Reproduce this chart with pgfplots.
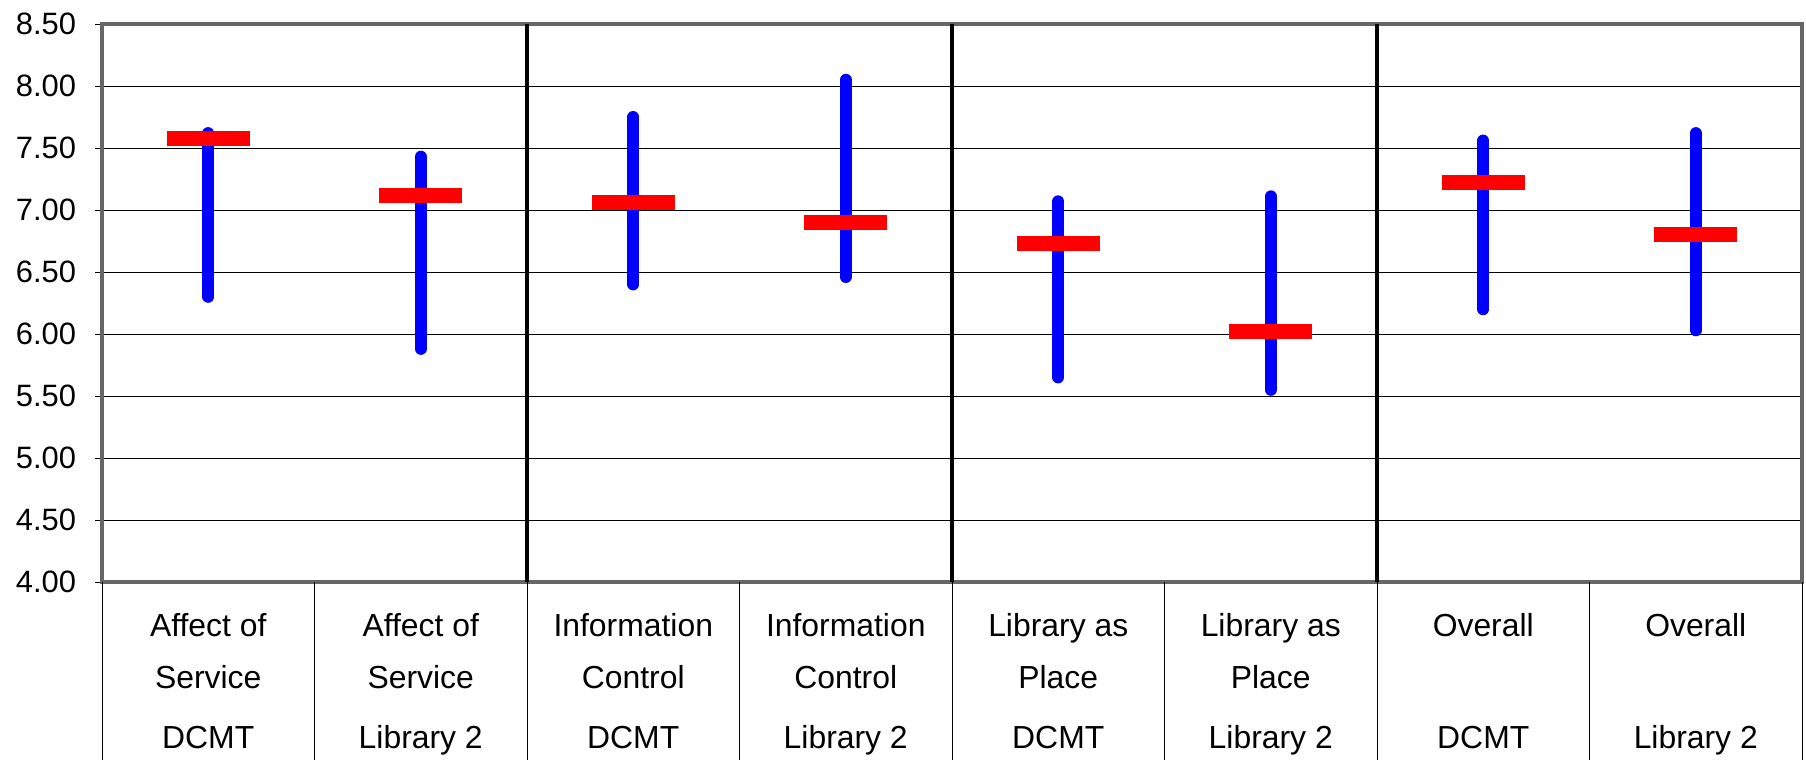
\documentclass[border=0pt]{standalone}
\usepackage{pgfplots}
\usepackage{pgfplotstable}
\pgfplotsset{compat=1.18}
\usepackage{fontspec}
\setmainfont{Liberation Sans}

% red bar marking the mean
\pgfdeclareplotmark{meanbar}{%
  \pgfsetcornersarced{\pgfpoint{1bp}{1bp}}%
  \pgfpathrectangle{\pgfpoint{-20.75bp}{-3.75bp}}{\pgfpoint{41.5bp}{7.5bp}}%
  \pgfusepathqfill}

\pgfplotstableread{
x lo   hi   mean
0 6.30 7.62 7.58
1 5.88 7.43 7.12
2 6.40 7.75 7.06
3 6.46 8.05 6.90
4 5.65 7.07 6.73
5 5.55 7.11 6.02
6 6.20 7.56 7.22
7 6.03 7.62 6.80
}\scores

\begin{document}
\begin{tikzpicture}
\useasboundingbox (-51bp,-89bp) rectangle (852bp,291bp);
\begin{axis}[
  at={(0,0)}, anchor=south west,
  scale only axis, width=850bp, height=279bp,
  xmin=-0.5, xmax=7.5, ymin=4, ymax=8.5,
  ytick={4,4.5,...,8.5},
  ymajorgrids, grid style={black, line width=0.5bp},
  axis line style={gray!80!black, line width=1.6bp},
  yticklabel style={font=\fontsize{15.5}{17}\selectfont, xshift=-6bp},
  /pgf/number format/.cd, fixed, fixed zerofill, precision=2, assume math mode=true,
  /pgfplots/.cd,
  ytick style={black, line width=0.5bp},
  ytick align=outside, major tick length=3.5bp,
  xtick={0,...,7},
  xtick style={draw=none},
  xticklabels={
    {Affect of\\Service\\[3.5bp]DCMT},
    {Affect of\\Service\\[3.5bp]Library 2},
    {Information\\Control\\[3.5bp]DCMT},
    {Information\\Control\\[3.5bp]Library 2},
    {Library as\\Place\\[3.5bp]DCMT},
    {Library as\\Place\\[3.5bp]Library 2},
    {Overall\\[30bp]DCMT},
    {Overall\\[30bp]Library 2}},
  xticklabel style={font=\fontsize{16}{26.5}\selectfont, align=center, anchor=north, yshift=-12bp},
  extra x ticks={-0.5,0.5,...,7.5},
  extra x tick labels={},
  extra x tick style={
    xtick style={draw=black, line width=0.5bp},
    major tick length=93bp, tick align=outside},
  tick pos=left,
  clip=false,
]
% group separators
\addplot[black, line width=1.8bp, unbounded coords=jump] coordinates {
  (1.5,4) (1.5,8.5) (2,nan) (3.5,4) (3.5,8.5) (4,nan) (5.5,4) (5.5,8.5)};
% low-high range
\addplot[blue, only marks, mark=none,
  error bars/.cd, y dir=plus, y explicit, error mark=none,
  error bar style={blue, line width=6bp, line cap=round}]
  table[x=x, y=lo, y error expr=\thisrow{hi}-\thisrow{lo}] {\scores};
% mean
\addplot[red, only marks, mark=meanbar] table[x=x, y=mean] {\scores};
\end{axis}
\end{tikzpicture}
\end{document}
